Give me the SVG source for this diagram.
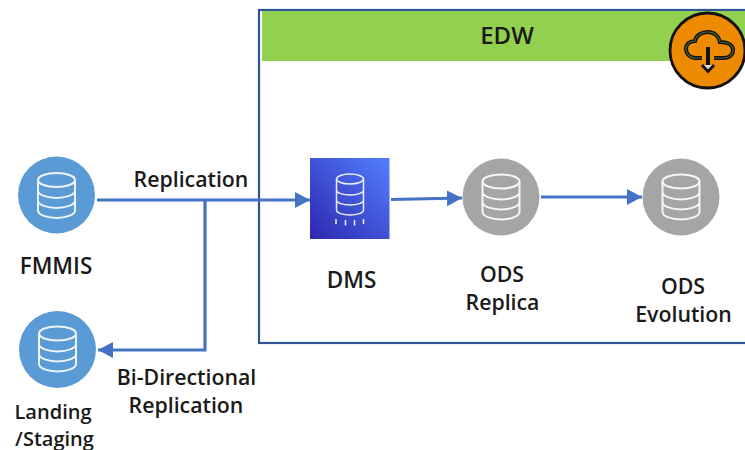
<svg xmlns="http://www.w3.org/2000/svg" width="745" height="450" viewBox="0 0 745 450">
<style>
.t{font-family:"Open Sans","Noto Sans","Liberation Sans",sans-serif;font-weight:600;font-size:21.300px;fill:#1a1a1a;text-anchor:middle}
.c{fill:none;stroke:#4472c4;stroke-width:3.200}
.d{fill:none;stroke:#fff;stroke-width:2;opacity:.9}
</style>
<defs>
<marker id="a" markerUnits="userSpaceOnUse" markerWidth="16" markerHeight="16" refX="15" refY="8" orient="auto"><path d="M0 0L15 8L0 16Z" fill="#4472c4"/></marker>
<linearGradient id="g" x1="0" y1="1" x2="1" y2="0"><stop offset="0" stop-color="#2e27ad"/><stop offset="1" stop-color="#527fff"/></linearGradient>
<g id="db" class="d">
<ellipse cx="0" cy="-15.500" rx="18.500" ry="7"/>
<path d="M-18.500-15.500V15C-18.500 19.500 -9 22.500 0 22.500S18.500 19.500 18.500 15V-15.500M-18.500-5C-18.500-.5 -9 2.500 0 2.500S18.500-.5 18.500-5M-18.500 5C-18.500 9.500 -9 12.500 0 12.500S18.500 9.500 18.500 5"/>
</g>
</defs>
<rect width="745" height="450" fill="#fff"/>
<g id="edw">
<rect x="259" y="10" width="490" height="333" fill="none" stroke="#2f5597" stroke-width="2.200"/>
<rect x="262" y="11" width="483" height="50" fill="#92d050"/>
<text class="t" x="507" y="44" style="font-size:24px">EDW</text>
</g>
<g id="connectors">
<path class="c" d="M97 200H310" marker-end="url(#a)"/>
<path class="c" d="M205 200V350H98" marker-end="url(#a)"/>
<path class="c" d="M391 199.500L462 198" marker-end="url(#a)"/>
<path class="c" d="M541 197H642" marker-end="url(#a)"/>
</g>
<text class="t" x="191" y="187">Replication</text>
<text class="t" x="186.500" y="385">Bi-Directional</text>
<text class="t" x="186" y="413">Replication</text>
<g id="fmmis">
<circle cx="56.500" cy="195" r="38.500" fill="#5b9bd5"/>
<use href="#db" x="56.500" y="195.500"/>
<text class="t" x="56" y="274" style="font-size:22.500px">FMMIS</text>
</g>
<g id="landing">
<circle cx="57.500" cy="349.500" r="38.500" fill="#5b9bd5"/>
<use href="#db" x="57.500" y="349"/>
<text class="t" x="53" y="418.500" style="font-size:20px">Landing</text>
<text class="t" x="54.500" y="445.500" style="font-size:20px">/Staging</text>
</g>
<g id="dms">
<rect x="310" y="158" width="79.500" height="81" fill="url(#g)"/>
<g class="d" style="stroke-width:1.500">
<ellipse cx="350" cy="179" rx="13.500" ry="5"/>
<path d="M336.500 179V210C336.500 213 343 215 350 215S363.500 213 363.500 210V179M336.500 190C336.500 193 343 195 350 195S363.500 193 363.500 190M336.500 200C336.500 203 343 205 350 205S363.500 203 363.500 200"/>
<path d="M336 219V224M345.500 220V225.500M354.500 220V225.500M363.500 219V224"/>
</g>
<text class="t" x="351.500" y="288" style="font-size:22.500px">DMS</text>
</g>
<g id="ods-replica">
<circle cx="501" cy="197" r="38.500" fill="#a5a5a5"/>
<use href="#db" x="501" y="197"/>
<text class="t" x="502" y="282">ODS</text>
<text class="t" x="502.500" y="310">Replica</text>
</g>
<g id="ods-evolution">
<circle cx="681" cy="197" r="38.500" fill="#a5a5a5"/>
<use href="#db" x="681" y="197"/>
<text class="t" x="683" y="294">ODS</text>
<text class="t" x="683.500" y="322">Evolution</text>
</g>
<g id="cloud-icon">
<circle cx="707.500" cy="50.500" r="37.500" fill="#ee8a00" stroke="#111" stroke-width="2.800"/>
<path d="M702 58H696C689 58 686 53 686 49C686 44 690 41 695 41C696 35 702 32 708 32C715 32 719 37 720 42C726 42 733 44 733 50C733 55 729 58 723 58H714" fill="none" stroke="#111" stroke-width="4"/>
<path d="M702 58H696C689 58 686 53 686 49C686 44 690 41 695 41C696 35 702 32 708 32C715 32 719 37 720 42C726 42 733 44 733 50C733 55 729 58 723 58H714" fill="none" stroke="#52662a" stroke-width="1.200"/>
<path d="M708 47V66" fill="none" stroke="#111" stroke-width="4"/>
<path d="M702 65L708 71.500L714 65" fill="#ddd" stroke="#111" stroke-width="2.800"/>
</g>
</svg>
